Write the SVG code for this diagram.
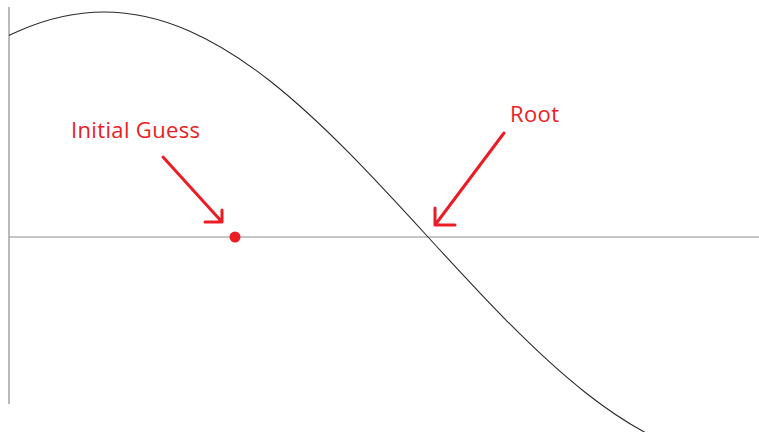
<svg xmlns="http://www.w3.org/2000/svg" width="759" height="432" viewBox="0 0 759 432">
  <style>
    .axis { stroke: #8c8c8c; stroke-width: 1.2; fill: none; }
    .curve { stroke: #2a2a2a; stroke-width: 1.1; fill: none; }
    .mark { stroke: #ec1c24; stroke-width: 3; fill: none; stroke-linecap: round; stroke-linejoin: round; }
    .label { fill: #ec1c24; font-family: "Open Sans", "Noto Sans", "DejaVu Sans", sans-serif; font-size: 22px; }
  </style>
  <defs>
    <clipPath id="plotArea">
      <rect x="9" y="0" width="750" height="432"/>
    </clipPath>
  </defs>
  <rect width="759" height="432" fill="#ffffff"/>

  <!-- axes -->
  <g id="axes">
    <line class="axis" x1="9" y1="7" x2="9" y2="404"/>
    <line class="axis" x1="9" y1="237" x2="759" y2="237"/>
  </g>

  <!-- cosine curve: peak at x=104, root at x=428 -->
  <g id="curve" clip-path="url(#plotArea)">
    <path class="curve" d="M -220 237 C -114.3 121.7 -13.3 12 104 12 C 221.3 12 322.3 121.7 428 237 C 533.7 352.3 634.7 462 752 462"/>
  </g>

  <!-- starting point on the x axis -->
  <g id="initial-point">
    <circle cx="235" cy="237" r="5.5" fill="#ec1c24"/>
  </g>

  <g id="connectors">
    <path class="mark" d="M 163 157 L 222 222 M 205 222 L 222 222 L 222 210"/>
    <path class="mark" d="M 504 133 L 435 225 M 435 208 L 435 225 L 455 225"/>
  </g>

  <g id="label-initial-guess">
    <text class="label" x="71" y="138" textLength="129" lengthAdjust="spacing">Initial Guess</text>
  </g>
  <g id="label-root">
    <text class="label" x="510" y="122" textLength="49" lengthAdjust="spacing">Root</text>
  </g>
</svg>
